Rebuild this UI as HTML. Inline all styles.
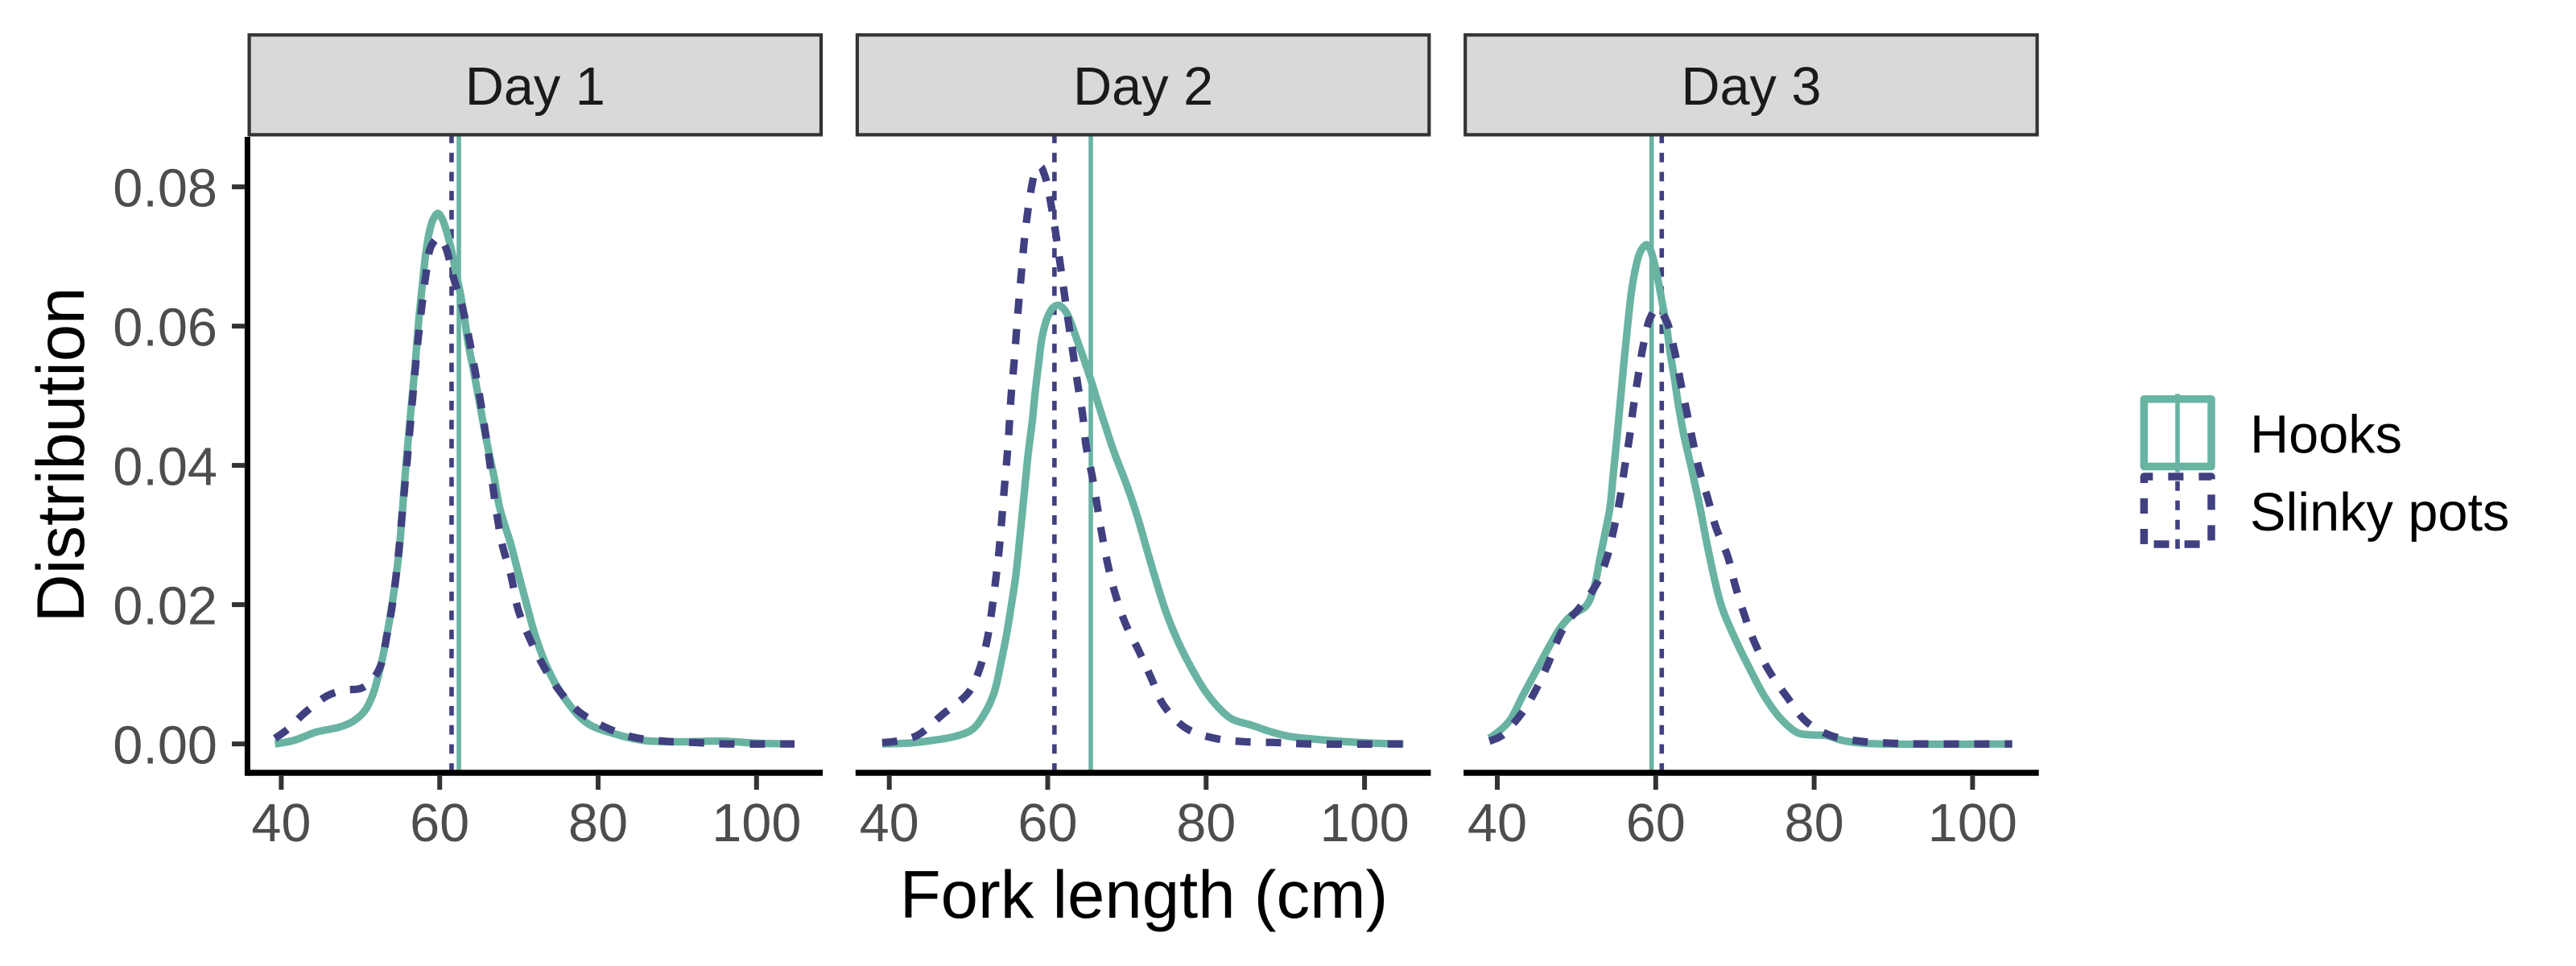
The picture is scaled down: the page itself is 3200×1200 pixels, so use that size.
<!DOCTYPE html>
<html lang="en">
<head>
<meta charset="utf-8">
<title>Fork length distribution by day</title>
<style>
html,body{margin:0;padding:0;background:#fff;width:3200px;height:1200px;overflow:hidden}
svg{display:block;font-family:"Liberation Sans",Arial,sans-serif}
</style>
</head>
<body>
<svg id="chart" xmlns="http://www.w3.org/2000/svg" width="3200" height="1200" viewBox="0 0 3200 1200">
  <rect x="0" y="0" width="3200" height="1200" fill="#ffffff"/>
  <text transform="translate(104,565) rotate(-90)" text-anchor="middle" font-size="83.33" fill="#000">Distribution</text>
  <text x="1421" y="1140" text-anchor="middle" font-size="83.33" fill="#000">Fork length (cm)</text>
  <g id="panels"></g>
  <g>
    <g>
      <rect x="2663.4" y="495.75" width="83.6" height="83.8" fill="none" stroke="#69b3a2" stroke-width="9.5" stroke-linejoin="round"/>
      <line x1="2705" x2="2705" y1="489.3" y2="586.7" stroke="#69b3a2" stroke-width="5.6"/>
      <text x="2795" y="562.5" font-size="66.67" fill="#000">Hooks</text>
    </g>
    <g>
      <path d="M2663.4 676V592H2747V676H2663.4" fill="none" stroke="#404080" stroke-width="9.5" stroke-linejoin="round" stroke-dasharray="19 19"/>
      <line x1="2705" x2="2705" y1="681.7" y2="586.7" stroke="#404080" stroke-width="5.6" stroke-dasharray="12 12"/>
      <text x="2795" y="658.8" font-size="66.67" fill="#000">Slinky pots</text>
    </g>
  </g>
</svg>
<script>
// ---- data ----
const dayLabels = ["Day 1", "Day 2", "Day 3"];
const xTickValues = [40, 60, 80, 100];
const xTickLabels = ["40", "60", "80", "100"];
const yTickValues = [0, 0.02, 0.04, 0.06, 0.08];
const yTickLabels = ["0.00", "0.02", "0.04", "0.06", "0.08"];

const meanHooks = [62.42, 65.44, 59.48];
const meanSlinky = [61.5, 60.85, 60.76];

const day1HooksLength = [39.2,41.6,44.4,47.3,49,50.5,51.5,52.6,53.7,54.8,55.64,56.05,56.49,56.93,57.34,57.78,58.22,58.69,59.2,59.78,60.32,60.89,61.47,62.08,62.59,63.1,63.6,64.28,64.96,65.64,66.31,66.82,67.6,69,70,71.1,72,73.6,75.8,78.6,82.2,85.7,90,95.7,100,104.8];
const day1HooksDensity = [0,.0005,.0017,.0024,.0032,.0047,.0069,.0114,.018,.0269,.0386,.044,.0494,.0548,.0606,.0656,.0702,.0735,.0754,.0762,.0754,.0735,.071,.0675,.0648,.0614,.0575,.0536,.0494,.0452,.0413,.0386,.0338,.0286,.0242,.0195,.0158,.0109,.0065,.003,.0014,.0005,.0003,.0004,.0001,0];
const day1SlinkyLength = [39.2,40.8,43,45.8,47.9,50.1,51.5,52.6,53.3,54,54.8,55.3,55.91,56.25,56.59,56.93,57.3,57.74,58.22,58.93,59.9,60.72,61.71,62.82,63.64,64.35,65.03,65.64,66.21,67.2,67.9,69,69.9,71.1,72.8,75,77.5,80.7,84.3,88.2,92.2,96,103.6,104.8];
const day1SlinkyDensity = [.0008,.0021,.0045,.0069,.0077,.008,.0092,.0114,.0154,.0198,.0273,.0335,.0409,.0453,.0497,.054,.0584,.0628,.0671,.0715,.0727,.0714,.0671,.0629,.0586,.0543,.05,.0457,.0413,.0331,.0286,.0242,.0193,.0158,.0118,.0078,.0047,.0025,.001,.0004,.0002,0,0,0];

const day2HooksLength = [39.1,42.2,44.8,48.4,50.5,52,53.24,54.09,54.77,55.38,55.95,56.46,56.97,57.54,58.09,58.39,58.83,59.34,60.02,60.7,61.37,62.15,62.83,63.74,64.59,65.44,66.28,67.3,68.32,70,71.36,72.55,73.74,74.92,76.45,78.14,80,81.5,83.2,85.7,88.3,90.4,93.5,96.6,101.3,104.9];
const day2HooksDensity = [0,.0001,.0004,.0011,.0021,.0043,.0074,.0116,.0155,.0197,.024,.0294,.0352,.0417,.0467,.0502,.0544,.0587,.0614,.0627,.063,.0623,.0608,.0579,.0552,.0523,.0492,.0456,.0421,.0371,.0325,.0278,.0232,.019,.0147,.0109,.0074,.0053,.0036,.0027,.0017,.0011,.0007,.0004,.0001,0];
const day2SlinkyLength = [39.1,40.9,43.5,46.8,50.02,51.41,52.36,52.97,53.45,53.89,54.22,54.53,54.87,55.14,55.38,55.72,56.02,56.32,56.66,57,57.44,58.05,58.49,59.1,59.54,60,60.4,61.03,61.58,62.12,62.66,63.24,63.81,64.42,64.83,65.61,66.25,66.89,67.64,68.59,69.84,71.53,73.13,74.6,77.4,81.1,85,88.9,92.8,104.9];
const day2SlinkyDensity = [.0002,.0004,.0012,.0043,.0074,.0108,.015,.0194,.0237,.0281,.0325,.0368,.0412,.0456,.05,.0543,.0587,.0631,.0674,.0718,.0761,.0805,.0824,.0829,.0819,.0801,.0776,.0732,.0689,.0645,.0602,.0558,.0515,.0472,.0429,.0385,.0342,.0298,.0255,.0213,.0172,.0133,.0093,.0056,.0023,.0008,.0003,.0002,0,0];

const day3HooksLength = [39,40.3,41.6,43.2,45,46.8,48.1,49.4,51.2,52.2,53,53.7,54.23,54.63,55.07,55.58,55.99,56.43,56.94,57.45,57.95,58.46,58.87,59.31,59.82,60.39,60.83,61.34,61.85,62.36,62.87,63.54,64.39,65.07,65.58,66.8,68.3,70.1,72,73.8,75.8,77.9,79.5,81.5,83.6,86.2,88.3,105];
const day3HooksDensity = [.0008,.0019,.0034,.0069,.0107,.0145,.0169,.0185,.0198,.0224,.0269,.0308,.034,.0386,.0436,.0498,.0548,.0598,.065,.0683,.0704,.0714,.0717,.071,.0691,.066,.0633,.0602,.056,.0525,.0486,.0444,.0402,.0367,.034,.0269,.0198,.0149,.0105,.0067,.0036,.0016,.0013,.0012,.0005,.0001,0,0];
const day3SlinkyLength = [39,40.6,42.1,43.7,44.7,46.3,47.8,49,50.2,52.5,53.8,54.7,55.48,56.06,56.67,57.17,57.75,58.39,59.31,60.16,61.34,62.36,63.1,63.88,64.66,65.51,66.59,67.6,69.1,70,71.2,72.5,74.3,76.6,79,82.1,85.7,89.8,93.5,105];
const day3SlinkyDensity = [.0004,.0012,.003,.0054,.0074,.0112,.0154,.0178,.0193,.0229,.0266,.0308,.0352,.0396,.0439,.0483,.0526,.057,.0612,.0625,.0608,.0565,.0522,.0479,.0436,.0393,.0352,.0311,.0269,.0229,.0185,.0145,.0105,.0067,.0032,.0012,.0004,.0001,0,0];

const hooksLengths = [day1HooksLength, day2HooksLength, day3HooksLength];
const hooksDensities = [day1HooksDensity, day2HooksDensity, day3HooksDensity];
const slinkyLengths = [day1SlinkyLength, day2SlinkyLength, day3SlinkyLength];
const slinkyDensities = [day1SlinkyDensity, day2SlinkyDensity, day3SlinkyDensity];

// ---- layout and axis functions ----
const NS = "http://www.w3.org/2000/svg";
const HOOKS_COLOR = "#69b3a2";
const SLINKY_COLOR = "#404080";
const panelLeft = 309.6;
const panelStep = 755.3;
const panelWidth = 710.4;
const panelTop = 167.6;
const axisY = 960;
const xScale = (panel, v) => panelLeft + panel * panelStep + 39.8 + (v - 40) * 9.84;
const yScale = v => 924.1 - v * 8650;

function shape(tag, attrs, parent) {
  const el = document.createElementNS(NS, tag);
  for (const k in attrs) el.setAttribute(k, attrs[k]);
  parent.appendChild(el);
  return el;
}

// centripetal Catmull-Rom spline through the read points
function splinePath(px, py) {
  const n = px.length;
  const sq = (a, b) => Math.hypot(px[a] - px[b], py[a] - py[b]);
  let d = "M" + px[0].toFixed(2) + " " + py[0].toFixed(2);
  for (let i = 0; i < n - 1; i++) {
    const i0 = Math.max(i - 1, 0), i3 = Math.min(i + 2, n - 1);
    const a1 = sq(i, i0), a2 = sq(i, i + 1), a3 = sq(i + 1, i3);
    const r1 = Math.sqrt(a1), r2 = Math.sqrt(a2), r3 = Math.sqrt(a3);
    let c1x = px[i], c1y = py[i], c2x = px[i + 1], c2y = py[i + 1];
    if (r1 > 0) {
      const k = 2 * a1 + 3 * r1 * r2 + a2, m = 3 * r1 * (r1 + r2);
      c1x = (a1 * px[i + 1] - a2 * px[i0] + k * px[i]) / m;
      c1y = (a1 * py[i + 1] - a2 * py[i0] + k * py[i]) / m;
    }
    if (r3 > 0) {
      const k = 2 * a3 + 3 * r3 * r2 + a2, m = 3 * r3 * (r3 + r2);
      c2x = (a3 * px[i] - a2 * px[i3] + k * px[i + 1]) / m;
      c2y = (a3 * py[i] - a2 * py[i3] + k * py[i + 1]) / m;
    }
    d += "C" + c1x.toFixed(2) + " " + c1y.toFixed(2) + " " + c2x.toFixed(2) + " " + c2y.toFixed(2) + " " +
         px[i + 1].toFixed(2) + " " + py[i + 1].toFixed(2);
  }
  return d;
}

function curvePath(panel, lengths, densities) {
  return splinePath(lengths.map(v => xScale(panel, v)), densities.map(yScale));
}

const root = document.getElementById("panels");

dayLabels.forEach((label, p) => {
  const left = panelLeft + p * panelStep;
  const g = shape("g", {}, root);
  
  

  // mean lines
  const hooksMean = shape("line", { x1: xScale(p, meanHooks[p]), x2: xScale(p, meanHooks[p]), y1: panelTop, y2: axisY, stroke: HOOKS_COLOR, "stroke-width": 5.6 }, g);
  
  
  const slinkyMean = shape("line", { x1: xScale(p, meanSlinky[p]), x2: xScale(p, meanSlinky[p]), y1: axisY, y2: panelTop, stroke: SLINKY_COLOR, "stroke-width": 5.6, "stroke-dasharray": "11.85 11.85" }, g);
  
  

  // density curves
  const hooksCurve = shape("path", { d: curvePath(p, hooksLengths[p], hooksDensities[p]), fill: "none", stroke: HOOKS_COLOR, "stroke-width": 9.3 }, g);
  
  
  const slinkyCurve = shape("path", { d: curvePath(p, slinkyLengths[p], slinkyDensities[p]), fill: "none", stroke: SLINKY_COLOR, "stroke-width": 9.3, "stroke-dasharray": "18.9 18.9" }, g);
  
  

  // strip
  const strip = shape("rect", { x: left, y: 43.4, width: panelWidth, height: 124, fill: "#d9d9d9", stroke: "#333333", "stroke-width": 4.2 }, g);
  
  
  const stripText = shape("text", { x: left + panelWidth / 2, y: 130, "text-anchor": "middle", "font-size": 66.67, fill: "#1a1a1a" }, g);
  stripText.textContent = label;
  
  

  // x axis
  const xAxis = shape("line", { x1: left - 2.1, x2: left + panelWidth + 2.1, y1: axisY, y2: axisY, stroke: "#000", "stroke-width": 7.4 }, g);
  
  
  xTickValues.forEach((v, i) => {
    const tick = shape("line", { x1: xScale(p, v), x2: xScale(p, v), y1: 963, y2: 981, stroke: "#333333", "stroke-width": 6 }, g);
    
    
    const t = shape("text", { x: xScale(p, v), y: 1045, "text-anchor": "middle", "font-size": 66.67, fill: "#4d4d4d" }, g);
    t.textContent = xTickLabels[i];
    
    
  });
});

// y axis (first panel only)
const yAxisGroup = shape("g", {}, root);


const yAxisLine = shape("line", { x1: 307.4, x2: 307.4, y1: 170, y2: 963.7, stroke: "#000", "stroke-width": 7 }, yAxisGroup);


yTickValues.forEach((v, i) => {
  const tick = shape("line", { x1: 288, x2: 304.5, y1: yScale(v), y2: yScale(v), stroke: "#333333", "stroke-width": 6 }, yAxisGroup);
  
  
  const t = shape("text", { x: 270, y: yScale(v) + 24.3, "text-anchor": "end", "font-size": 66.67, fill: "#4d4d4d" }, yAxisGroup);
  t.textContent = yTickLabels[i];
  
  
});
</script>
</body>
</html>
